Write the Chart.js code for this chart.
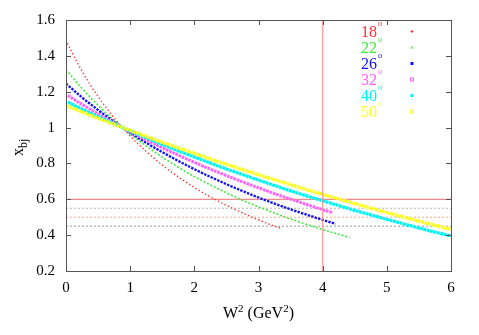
<!DOCTYPE html>
<html>
<head>
<meta charset="utf-8">
<style>
  html, body { margin: 0; padding: 0; background: #fff; }
</style>
<script src="https://cdn.jsdelivr.net/npm/chart.js@4.4.1/dist/chart.umd.min.js"></script>
</head>
<body>
<canvas id="xbjChart" width="479" height="335"></canvas>
<script>
// scattering angles (deg) shown in the key
const angles = ['18', '22', '26', '32', '40', '50'];

// W^2 (GeV^2) and x_bj, one pair per angle
const w18 = [0.02, 0.25, 0.5, 0.75, 1, 1.25, 1.5, 1.75, 2, 2.25, 2.5, 2.75, 3, 3.25, 3.37];
const x18 = [1.470, 1.314, 1.173, 1.054, 0.953, 0.867, 0.791, 0.725, 0.666, 0.613, 0.566, 0.524, 0.485, 0.450, 0.435];

const w22 = [0, 0.25, 0.5, 0.75, 1, 1.25, 1.5, 1.75, 2, 2.25, 2.5, 2.75, 3, 3.25, 3.5, 3.75, 4, 4.25, 4.42];
const x22 = [1.323, 1.218, 1.124, 1.040, 0.965, 0.897, 0.835, 0.779, 0.727, 0.680, 0.636, 0.595, 0.558, 0.523, 0.490, 0.460, 0.431, 0.405, 0.387];

const w26 = [0, 0.25, 0.5, 0.75, 1, 1.25, 1.5, 1.75, 2, 2.25, 2.5, 2.75, 3, 3.25, 3.5, 3.75, 4, 4.2];
const x26 = [1.245, 1.168, 1.098, 1.032, 0.971, 0.915, 0.863, 0.814, 0.768, 0.725, 0.684, 0.646, 0.610, 0.576, 0.544, 0.514, 0.485, 0.463];

const w32 = [0.03, 0.25, 0.5, 0.75, 1, 1.25, 1.5, 1.75, 2, 2.25, 2.5, 2.75, 3, 3.25, 3.5, 3.75, 4, 4.16];
const x32 = [1.179, 1.129, 1.076, 1.025, 0.977, 0.931, 0.888, 0.846, 0.806, 0.768, 0.732, 0.697, 0.664, 0.631, 0.601, 0.571, 0.542, 0.525];

const w40 = [0.03, 0.25, 0.5, 0.75, 1, 1.25, 1.5, 1.75, 2, 2.25, 2.5, 2.75, 3, 3.25, 3.5, 3.75, 4, 4.25, 4.5, 4.75, 5, 5.25, 5.5, 5.75, 6];
const x40 = [1.142, 1.103, 1.061, 1.021, 0.981, 0.943, 0.906, 0.870, 0.836, 0.802, 0.769, 0.738, 0.707, 0.677, 0.647, 0.619, 0.592, 0.565, 0.538, 0.513, 0.488, 0.464, 0.440, 0.417, 0.395];

const w50 = [0, 0.25, 0.5, 0.75, 1, 1.25, 1.5, 1.75, 2, 2.25, 2.5, 2.75, 3, 3.25, 3.5, 3.75, 4, 4.25, 4.5, 4.75, 5, 5.25, 5.5, 5.75, 6];
const x50 = [1.123, 1.087, 1.052, 1.018, 0.984, 0.951, 0.918, 0.887, 0.856, 0.825, 0.795, 0.766, 0.737, 0.709, 0.682, 0.654, 0.628, 0.602, 0.576, 0.551, 0.526, 0.502, 0.478, 0.455, 0.432];

// reference lines
const solidY = 0.6;
const solidX = 4;
const dottedY = [0.55, 0.5, 0.45];

// axis ticks
const xTicks = [0, 1, 2, 3, 4, 5, 6];
const yTicks = [0.2, 0.4, 0.6, 0.8, 1.0, 1.2, 1.4, 1.6];
const yTickLabels = ['0.2', '0.4', '0.6', '0.8', '1', '1.2', '1.4', '1.6'];

const SERIF = '"Liberation Serif", "DejaVu Serif", serif';

const seriesW = [w18, w22, w26, w32, w40, w50];
const seriesX = [x18, x22, x26, x32, x40, x50];
const seriesColor = ['#ff3030', '#40e840', '#1010ff', '#ff60ff', '#00f4f4', '#ffff20'];
const seriesWidth = [1.3, 1.6, 2.3, 3, 3.2, 3.4];
const seriesDash = [[1.5, 2.2], [2, 1.8], [2.4, 1.2], [2.6, 0.9], [3, 0.5], [2.8, 0.6]];

function pairs(ws, xs) {
  return ws.map((w, i) => ({ x: w, y: xs[i] }));
}

const datasets = [];

// curves (yellow drawn on top, red at the bottom)
angles.forEach((a, i) => {
  datasets.push({
    label: a,
    data: pairs(seriesW[i], seriesX[i]),
    showLine: true,
    borderColor: seriesColor[i],
    backgroundColor: seriesColor[i],
    borderWidth: seriesWidth[i],
    borderDash: seriesDash[i],
    pointRadius: 0,
    cubicInterpolationMode: 'monotone',
    order: 10 - i
  });
});

// dotted horizontal lines
const dottedColor = ['#b4b4b4', '#f5a88a', '#9a9a9a'];
dottedY.forEach((y, i) => {
  datasets.push({
    data: [{ x: 0, y: y }, { x: 6, y: y }],
    showLine: true,
    borderColor: dottedColor[i],
    borderWidth: 1,
    borderDash: [2, 2],
    pointRadius: 0,
    order: 20
  });
});

// solid reference lines
datasets.push({
  data: [{ x: 0, y: solidY }, { x: 6, y: solidY }],
  showLine: true,
  borderColor: '#f08a8a',
  borderWidth: 1.2,
  pointRadius: 0,
  order: 19
});
datasets.push({
  data: [{ x: solidX, y: 0.2 }, { x: solidX, y: 1.6 }],
  showLine: true,
  borderColor: 'rgba(240,140,140,0.75)',
  borderWidth: 1.6,
  pointRadius: 0,
  order: 1
});

// frame, mirrored inward ticks, titles and key
const decorPlugin = {
  id: 'decor',
  afterDatasetsDraw(chart) {
    const { ctx, chartArea: a, scales } = chart;
    const tick = 5;
    ctx.save();
    ctx.strokeStyle = '#555';
    ctx.lineWidth = 1;
    ctx.strokeRect(a.left + 0.5, a.top + 0.5, a.right - a.left, a.bottom - a.top);
    ctx.beginPath();
    xTicks.forEach(v => {
      const px = Math.round(scales.x.getPixelForValue(v)) + 0.5;
      ctx.moveTo(px, a.bottom); ctx.lineTo(px, a.bottom - tick);
      ctx.moveTo(px, a.top); ctx.lineTo(px, a.top + tick);
    });
    yTicks.forEach(v => {
      const py = Math.round(scales.y.getPixelForValue(v)) + 0.5;
      ctx.moveTo(a.left, py); ctx.lineTo(a.left + tick, py);
      ctx.moveTo(a.right, py); ctx.lineTo(a.right - tick, py);
    });
    ctx.stroke();

    // x title: W^2 (GeV^2)
    ctx.fillStyle = '#000';
    ctx.textBaseline = 'alphabetic';
    ctx.textAlign = 'left';
    const big = '16px ' + SERIF, small = '11px ' + SERIF;
    const parts = [['W', big, 0], ['2', small, -6], [' (GeV', big, 0], ['2', small, -6], [')', big, 0]];
    let total = 0;
    parts.forEach(p => { ctx.font = p[1]; total += ctx.measureText(p[0]).width; });
    let cx = 258.5 - total / 2;
    parts.forEach(p => {
      ctx.font = p[1];
      ctx.fillText(p[0], cx, 318 + p[2]);
      cx += ctx.measureText(p[0]).width;
    });

    // y title: x_bj
    ctx.save();
    ctx.translate(23, 156);
    ctx.rotate(-Math.PI / 2);
    ctx.font = big;
    ctx.fillText('x', 0, 0);
    const xw = ctx.measureText('x').width;
    ctx.font = '12px ' + SERIF;
    ctx.fillText('bj', xw, 3.5);
    ctx.restore();

    // key
    angles.forEach((a2, i) => {
      const y = 33 + i * 16;
      ctx.fillStyle = seriesColor[i];
      ctx.font = '16px ' + SERIF;
      ctx.textAlign = 'right';
      ctx.textBaseline = 'middle';
      ctx.fillText(a2, 377, y);
      ctx.font = '9px ' + SERIF;
      ctx.textAlign = 'left';
      ctx.fillText('o', 378, y - 9);
      // sample mark
      const mx = 412, my = y - 1.5;
      ctx.strokeStyle = seriesColor[i];
      ctx.lineWidth = 1;
      if (i === 0) {
        ctx.beginPath();
        ctx.moveTo(mx - 1.5, my); ctx.lineTo(mx + 1.5, my);
        ctx.moveTo(mx, my - 1.5); ctx.lineTo(mx, my + 1.5);
        ctx.stroke();
      } else if (i === 1) {
        ctx.beginPath();
        ctx.moveTo(mx - 1.2, my - 1.2); ctx.lineTo(mx + 1.2, my + 1.2);
        ctx.moveTo(mx + 1.2, my - 1.2); ctx.lineTo(mx - 1.2, my + 1.2);
        ctx.stroke();
      } else if (i === 3 || i === 5) {
        ctx.strokeRect(mx - 1.5, my - 1.5, 3, 3);
      } else {
        ctx.fillRect(mx - 1.5, my - 1.5, 3, 3);
      }
    });
    ctx.restore();
  }
};

new Chart(document.getElementById('xbjChart'), {
  type: 'scatter',
  data: { datasets },
  options: {
    responsive: false,
    animation: false,
    devicePixelRatio: 1,
    layout: { padding: { left: 0, right: 28, top: 19, bottom: 0 } },
    plugins: {
      legend: { display: false },
      tooltip: { enabled: false }
    },
    scales: {
      x: {
        type: 'linear',
        min: 0,
        max: 6,
        afterBuildTicks: s => { s.ticks = xTicks.map(v => ({ value: v })); },
        afterFit: s => { s.height = 64; },
        grid: { display: false, drawTicks: false },
        border: { display: false },
        ticks: {
          padding: 8,
          maxRotation: 0,
          color: '#000',
          font: { family: SERIF, size: 15 },
          callback: v => String(v)
        }
      },
      y: {
        type: 'linear',
        min: 0.2,
        max: 1.6,
        afterBuildTicks: s => { s.ticks = yTicks.map(v => ({ value: v })); },
        afterFit: s => { s.width = 66; },
        grid: { display: false, drawTicks: false },
        border: { display: false },
        ticks: {
          padding: 11,
          color: '#000',
          font: { family: SERIF, size: 15 },
          callback: (v, i) => yTickLabels[i]
        }
      }
    }
  },
  plugins: [decorPlugin]
});
</script>
</body>
</html>
